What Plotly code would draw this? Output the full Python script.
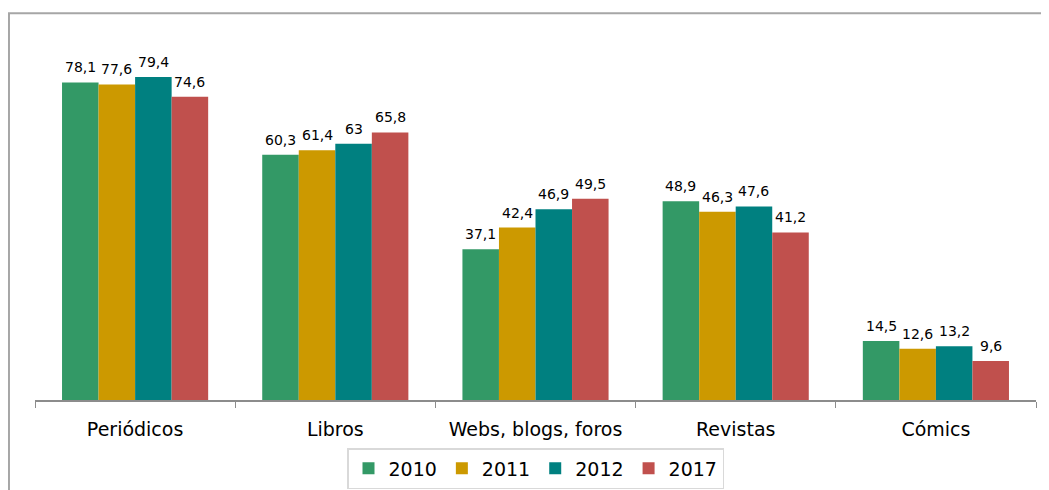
import plotly.graph_objects as go

categories = ["Periódicos", "Libros", "Webs, blogs, foros", "Revistas", "Cómics"]
years = ["2010", "2011", "2012", "2017"]
v2010 = [78.1, 60.3, 37.1, 48.9, 14.5]
v2011 = [77.6, 61.4, 42.4, 46.3, 12.6]
v2012 = [79.4, 63.0, 46.9, 47.6, 13.2]
v2017 = [74.6, 65.8, 49.5, 41.2, 9.6]
colors = ["#339966", "#CC9900", "#008080", "#C0504D"]

def fmt(v):
    s = ("%g" % v)
    return s.replace(".", ",")

W, H = 1041, 482
ML, MR, MT, MB = 27, 13, 26, 90
BARGAP = 0.27
plot_w = W - ML - MR
bar_w = plot_w / len(categories) * (1 - BARGAP) / len(years)

fig = go.Figure()
annotations = []
series = [v2010, v2011, v2012, v2017]
for i, (name, vals, col) in enumerate(zip(years, series, colors)):
    fig.add_trace(go.Bar(
        x=categories, y=vals, name=name,
        marker=dict(color=col, line=dict(width=0)),
        hoverinfo="x+y+name",
    ))
    for c, v in zip(categories, vals):
        annotations.append(dict(
            x=c, y=v, xref="x", yref="y", text=fmt(v), showarrow=False,
            xanchor="center", yanchor="bottom",
            xshift=(i - (len(years) - 1) / 2) * bar_w, yshift=5,
            font=dict(family="DejaVu Sans", size=14, color="#000000"),
        ))

fig.update_layout(
    width=W, height=H,
    margin=dict(l=ML, r=MR, t=MT, b=MB, autoexpand=False),
    paper_bgcolor="white", plot_bgcolor="white",
    barmode="group", bargap=BARGAP, bargroupgap=0,
    font=dict(family="DejaVu Sans", color="#000000"),
    showlegend=True,
    legend=dict(
        orientation="h", x=0.5, xanchor="center",
        yref="container", y=(H - 440) / H, yanchor="top",
        bordercolor="#D9D9D9", borderwidth=1.5,
        font=dict(size=19, family="DejaVu Sans"),
        itemwidth=30, tracegroupgap=0,
    ),
    xaxis=dict(
        showline=True, linecolor="#8C8C8C", linewidth=1.5,
        ticks="outside", tickson="boundaries", ticklen=6, tickcolor="#8C8C8C",
        tickfont=dict(size=19, family="DejaVu Sans"),
        ticklabelstandoff=11, automargin=False,
        showgrid=False,
    ),
    yaxis=dict(range=[0, 90], visible=False, showgrid=False, automargin=False),
    annotations=annotations,
    shapes=[dict(type="rect", xref="paper", yref="paper",
                 x0=-0.026, x1=1.05, y0=-0.3, y1=1.057,
                 line=dict(color="#A6A6A6", width=2), fillcolor="rgba(0,0,0,0)",
                 layer="below")],
)

fig.write_html("out.html")
